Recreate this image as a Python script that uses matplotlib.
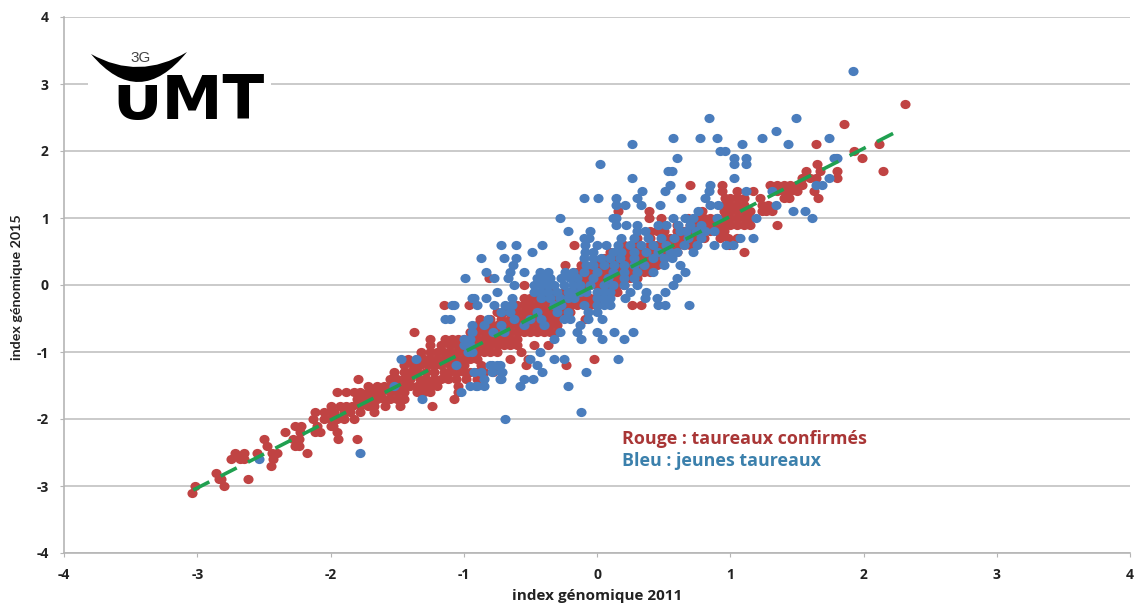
import matplotlib
matplotlib.use("Agg")
import matplotlib.pyplot as plt
from matplotlib.markers import MarkerStyle
from matplotlib.patches import PathPatch, Rectangle
from matplotlib.path import Path
from matplotlib.transforms import Affine2D

plt.rcParams['axes.unicode_minus'] = False

# rounded index 2015 levels, with the 2011 values found on each level
red_levels = [-3.1, -3.0, -2.9, -2.8, -2.7, -2.6, -2.5, -2.4, -2.3, -2.2, -2.1, -2.0, -1.9, -1.8, -1.7, -1.6,
              -1.5, -1.4, -1.3, -1.2, -1.1, -1.0, -0.9, -0.8, -0.7, -0.6, -0.5, -0.4, -0.3, -0.2, -0.1,
              0.0, 0.1, 0.2, 0.3, 0.4, 0.5, 0.6, 0.7, 0.8, 0.9, 1.0, 1.1, 1.2, 1.3, 1.4, 1.5, 1.6, 1.7,
              1.8, 1.9, 2.0, 2.1, 2.4, 2.7]
red_x_rows = [
    [-3.04],
    [-3.02, -2.8],
    [-2.84, -2.82, -2.62],
    [-2.86],
    [-2.45],
    [-2.75, -2.68, -2.65, -2.43],
    [-2.72, -2.65, -2.55, -2.44, -2.4, -2.18],
    [-2.48, -2.27, -2.24],
    [-2.5, -2.28, -2.24, -1.94, -1.8],
    [-2.34, -2.23, -2.12, -2.08, -1.95],
    [-2.27, -2.22, -2.1, -2.0, -1.98],
    [-2.13, -2.05, -2.0, -1.95, -1.9, -1.82],
    [-2.12, -2.05, -2.0, -1.97, -1.9, -1.85, -1.78, -1.67],
    [-2.0, -1.93, -1.88, -1.84, -1.78, -1.72, -1.67, -1.59, -1.48, -1.24],
    [-1.8, -1.75, -1.7, -1.65, -1.6, -1.55, -1.5, -1.45, -1.07],
    [-1.95, -1.88, -1.82, -1.78, -1.72, -1.68, -1.62, -1.55, -1.5, -1.45, -1.35, -1.3, -1.25, -1.04],
    [-1.72, -1.65, -1.6, -1.55, -1.5, -1.45, -1.4, -1.35, -1.3, -1.25, -1.2, -1.04],
    [-1.79, -1.55, -1.5, -1.45, -1.4, -1.33, -1.28, -1.22, -1.17, -1.12, -1.06, -0.98, -0.9],
    [-1.52, -1.45, -1.4, -1.35, -1.28, -1.22, -1.15, -1.1, -1.05, -1.0, -0.95, -0.9, -0.85, -0.78],
    [-1.45, -1.38, -1.33, -1.27, -1.22, -1.17, -1.1, -1.05, -1.0, -0.87, -0.53, -0.23],
    [-1.42, -1.35, -1.3, -1.25, -1.2, -1.15, -1.1, -1.05, -1.0, -0.95, -0.9, -0.65, -0.52, -0.02],
    [-1.32, -1.25, -1.2, -1.15, -1.1, -1.05, -1.0, -0.95, -0.9, -0.85, -0.8, -0.75, -0.57],
    [-1.25, -1.17, -1.1, -1.05, -1.0, -0.95, -0.9, -0.85, -0.8, -0.75, -0.7, -0.65, -0.6, -0.47, -0.37],
    [-1.25, -1.14, -1.09, -1.04, -1.0, -0.95, -0.9, -0.85, -0.8, -0.75, -0.7, -0.65, -0.6],
    [-1.37, -0.95, -0.9, -0.85, -0.8, -0.75, -0.7, -0.65, -0.6, -0.55, -0.5, -0.45, -0.4, -0.35, -0.3],
    [-0.9, -0.85, -0.8, -0.75, -0.7, -0.65, -0.6, -0.55, -0.5, -0.45, -0.4, -0.35, -0.3],
    [-0.88, -0.8, -0.72, -0.65, -0.6, -0.55, -0.5, -0.45, -0.4, -0.35, -0.3, -0.09],
    [-0.75, -0.7, -0.65, -0.6, -0.55, -0.5, -0.45, -0.4, -0.35, -0.3, -0.25, -0.2],
    [-1.15, -0.96, -0.6, -0.55, -0.5, -0.45, -0.4, -0.35, -0.3, -0.25, -0.2, -0.15, -0.1, -0.05, 0.0, 0.26, 0.33],
    [-0.55, -0.5, -0.45, -0.4, -0.35, -0.3, -0.25, -0.2, -0.15, -0.1, -0.05, 0.0],
    [-0.4, -0.35, -0.25, -0.2, -0.15, -0.1, 0.05, 0.15],
    [-0.55, -0.15, -0.1, -0.05, 0.0, 0.05, 0.1, 0.15, 0.2],
    [-0.81, -0.15, -0.1, -0.05, 0.0, 0.05, 0.1, 0.15, 0.2, 0.25, 0.3],
    [-0.15, -0.1, -0.05, 0.0, 0.05, 0.1, 0.15, 0.2, 0.25, 0.3, 0.35, 0.4],
    [-0.24, -0.12, 0.0, 0.05, 0.1, 0.15, 0.2, 0.25, 0.3, 0.35, 0.4, 0.45],
    [0.05, 0.1, 0.15, 0.2, 0.25, 0.3, 0.35, 0.4, 0.45, 0.5],
    [0.1, 0.2, 0.25, 0.3, 0.35, 0.4, 0.45, 0.5, 0.55, 0.6, 1.1],
    [-0.17, 0.2, 0.3, 0.4, 0.45, 0.5, 0.55, 0.6, 0.65, 0.7, 0.99],
    [0.3, 0.4, 0.5, 0.55, 0.6, 0.65, 0.7, 0.75, 0.8, 0.92, 0.98, 1.05],
    [0.4, 0.45, 0.5, 0.6, 0.65, 0.7, 0.75, 0.8, 0.85, 0.9, 0.95],
    [0.5, 0.6, 0.7, 0.75, 0.8, 0.85, 0.9, 0.95, 1.0, 1.05, 1.1, 1.15, 1.35],
    [0.39, 0.48, 0.68, 0.75, 0.8, 0.85, 0.9, 0.95, 1.0, 1.05, 1.1, 1.15],
    [0.16, 0.39, 0.79, 0.95, 1.0, 1.05, 1.1, 1.15, 1.24, 1.27, 1.31],
    [0.95, 1.0, 1.05, 1.1, 1.24, 1.28],
    [0.96, 1.0, 1.05, 1.1, 1.22, 1.4, 1.44, 1.66],
    [0.94, 1.05, 1.17, 1.35, 1.4, 1.45, 1.5, 1.63],
    [0.7, 0.94, 1.3, 1.35, 1.4, 1.45, 1.5, 1.54],
    [1.54, 1.6, 1.64, 1.8],
    [1.57, 1.67, 1.8, 2.15],
    [1.65],
    [1.79, 1.99],
    [1.93],
    [1.64, 2.12],
    [1.85],
    [2.31],
]

blue_levels = [-2.6, -2.5, -2.0, -1.9, -1.7, -1.6, -1.5, -1.4, -1.3, -1.2, -1.1, -1.0, -0.9, -0.8, -0.7, -0.6,
               -0.5, -0.4, -0.3, -0.2, -0.1, 0.0, 0.1, 0.2, 0.3, 0.4, 0.5, 0.6, 0.7, 0.8, 0.9, 1.0, 1.1,
               1.2, 1.3, 1.4, 1.5, 1.6, 1.7, 1.8, 1.9, 2.0, 2.1, 2.2, 2.3, 2.5, 3.2]
blue_x_rows = [
    [-2.54],
    [-1.78],
    [-0.69],
    [-0.12],
    [-1.31],
    [-1.02],
    [-1.52, -0.95, -0.91, -0.85, -0.9, -0.58, -0.22],
    [-0.85, -0.72, -0.73, -0.55, -0.48],
    [-0.92, -0.87, -0.72, -0.79, -0.71, -0.41, -0.08],
    [-1.06, -0.8, -0.75, -0.79, -0.73, -0.45],
    [-1.47, -1.36, -0.5, -0.32, -0.25, 0.16],
    [-0.97, -0.94, -0.43],
    [-1.0, -0.95],
    [-1.0, -0.95, -0.32, -0.12, 0.04, 0.2],
    [-0.94, -0.78, -0.7, -0.28, -0.15, 0.0, 0.13, 0.27],
    [-0.94, -0.85, -0.72, -0.55, -0.4, -0.13],
    [-1.14, -1.1, -0.82, -0.62, -0.5, -0.42, -0.25, -0.2, -0.07, 0.04],
    [-0.72, -0.65, -0.45, -0.3, -0.22, -0.07, 0.0],
    [-1.09, -1.07, -0.9, -0.77, -0.69, -0.64, -0.32, -0.27, -0.1, 0.0, 0.05, 0.1, 0.46, 0.51, 0.69],
    [-0.94, -0.92, -0.83, -0.64, -0.42, -0.35, -0.28, -0.22, -0.17, 0.0, 0.05, 0.1, 0.21, 0.36, 0.45],
    [-0.75, -0.47, -0.42, -0.37, -0.3, -0.22, -0.18, -0.13, -0.08, 0.0, 0.05, 0.1, 0.25, 0.37, 0.51],
    [-0.62, -0.47, -0.42, -0.37, -0.32, -0.25, -0.18, -0.13, -0.05, 0.05, 0.12, 0.2, 0.3, 0.57],
    [-0.99, -0.77, -0.67, -0.45, -0.4, -0.35, -0.27, -0.2, -0.15, -0.03, 0.08, 0.2, 0.28, 0.6],
    [-0.83, -0.65, -0.55, -0.43, -0.37, -0.24, -0.18, -0.1, 0.0, 0.12, 0.2, 0.3, 0.42, 0.66],
    [-0.63, -0.08, -0.03, 0.05, 0.13, 0.2, 0.28, 0.35, 0.5, 0.62],
    [-0.87, -0.7, -0.61, -0.1, -0.03, 0.03, 0.1, 0.17, 0.28, 0.42, 0.5, 0.56],
    [-0.49, -0.09, -0.03, 0.12, 0.18, 0.28, 0.37, 0.46, 0.55, 0.6, 0.72],
    [-0.72, -0.61, -0.41, -0.09, 0.0, 0.07, 0.16, 0.25, 0.33, 0.42, 0.52, 0.65, 0.75, 0.88, 0.97, 1.02],
    [-0.1, -0.06, 0.18, 0.28, 0.38, 0.48, 0.58, 0.68, 0.78, 1.07, 1.17],
    [-0.22, -0.05, 0.3, 0.36, 0.62, 0.67, 0.74, 0.81, 0.88],
    [0.14, 0.22, 0.3, 0.46, 0.52, 0.61, 0.7, 0.78],
    [-0.28, 0.12, 0.14, 0.57, 0.66, 0.72, 0.9, 1.19, 1.61],
    [0.76, 1.47, 1.56],
    [0.14, 0.21, 0.33, 0.47, 0.85, 0.91, 1.34],
    [-0.1, 0.01, 0.14, 0.3, 0.63, 0.81],
    [0.34, 0.51, 0.84, 1.12, 1.31],
    [0.55, 0.85, 1.64, 1.69],
    [0.26, 1.03, 1.74],
    [0.53, 0.56],
    [0.02, 1.03, 1.12],
    [0.6, 1.03, 1.12, 1.78, 1.8],
    [0.92, 0.96],
    [0.26, 1.09, 1.43],
    [0.57, 0.77, 0.9, 1.24, 1.74],
    [1.34],
    [0.84, 1.49],
    [1.92],
]

trend_x = [-3.03, 2.24]
trend_y = [-3.06, 2.28]

x_ticks = [-4, -3, -2, -1, 0, 1, 2, 3, 4]
y_ticks = [-4, -3, -2, -1, 0, 1, 2, 3, 4]

red_x, red_y = [], []
for level, row in zip(red_levels, red_x_rows, strict=True):
    red_x += row
    red_y += [level] * len(row)
blue_x, blue_y = [], []
for level, row in zip(blue_levels, blue_x_rows, strict=True):
    blue_x += row
    blue_y += [level] * len(row)

fig = plt.figure(figsize=(11.37, 6.07), dpi=100)
ax = fig.add_axes([64 / 1137, 1 - 553 / 607, 1066 / 1137, 536 / 607])
ax.set_xlim(-4, 4)
ax.set_ylim(-4, 4)
ax.set_xticks(x_ticks)
ax.set_yticks(y_ticks)
ax.grid(axis='y', color='#c6c6c6', lw=1.3, zorder=0)
ax.set_axisbelow(True)
for side in ['top', 'right']:
    ax.spines[side].set_visible(False)
for side in ['left', 'bottom']:
    ax.spines[side].set_color('#b5b5b5')
    ax.spines[side].set_linewidth(1.2)
ax.tick_params(axis='both', length=3, color='#b5b5b5', labelsize=10, pad=8)
for lab in ax.get_xticklabels() + ax.get_yticklabels():
    lab.set_fontfamily('Open Sans')
    lab.set_fontweight('bold')
    lab.set_color('#222222')

# the source image is stretched sideways, so the dots are slightly wide
dot = MarkerStyle('o', transform=Affine2D().scale(1.1, 1))
ax.scatter(red_x, red_y, s=44, marker=dot, color='#c04343', lw=0, zorder=3)
ax.scatter(blue_x, blue_y, s=44, marker=dot, color='#4a7dbd', lw=0, zorder=4)
ax.plot(trend_x, trend_y, color='#20a050', lw=2.6, dashes=(5, 3.5), zorder=5)

fig.text(597 / 1137, 1 - 596 / 607, 'index génomique 2011', ha='center', va='center',
         fontsize=11, family='Open Sans', weight='bold', color='#222222')
fig.text(17 / 1137, 1 - 287 / 607, 'index génomique 2015', ha='center', va='center', rotation=90,
         fontsize=10.3, family='Lato', weight='bold', color='#222222')
fig.text(622 / 1137, 1 - 439 / 607, 'Rouge : taureaux confirmés', ha='left', va='center',
         fontsize=12.9, family='Open Sans', weight='bold', color='#a93636')
fig.text(622 / 1137, 1 - 461 / 607, 'Bleu : jeunes taureaux', ha='left', va='center',
         fontsize=12.9, family='Open Sans', weight='bold', color='#3b80ac')

# logo, placed in image pixels
px = Affine2D().scale(1, -1).translate(0, 607)
fig.add_artist(Rectangle((88, 50), 183, 75, transform=px, fc='white', ec='none', zorder=6))
fig.text(112 / 1137, 1 - 119 / 607, 'UMT', ha='left', va='baseline', fontsize=44,
         family='DejaVu Sans', weight='bold', color='black', zorder=7)
fig.add_artist(Rectangle((108, 70), 56, 15, transform=px, fc='white', ec='none', zorder=8))
crescent = Path([(91, 54), (139, 111), (187, 52), (139, 81), (91, 54), (91, 54)],
                [Path.MOVETO, Path.CURVE3, Path.CURVE3, Path.CURVE3, Path.CURVE3, Path.CLOSEPOLY])
fig.add_artist(PathPatch(crescent, transform=px, fc='black', ec='none', zorder=9))
fig.text(141 / 1137, 1 - 58 / 607, '3G', ha='center', va='center', fontsize=11,
         family='Liberation Sans', color='#444444', zorder=10)

fig.savefig('out.png', dpi=100)
